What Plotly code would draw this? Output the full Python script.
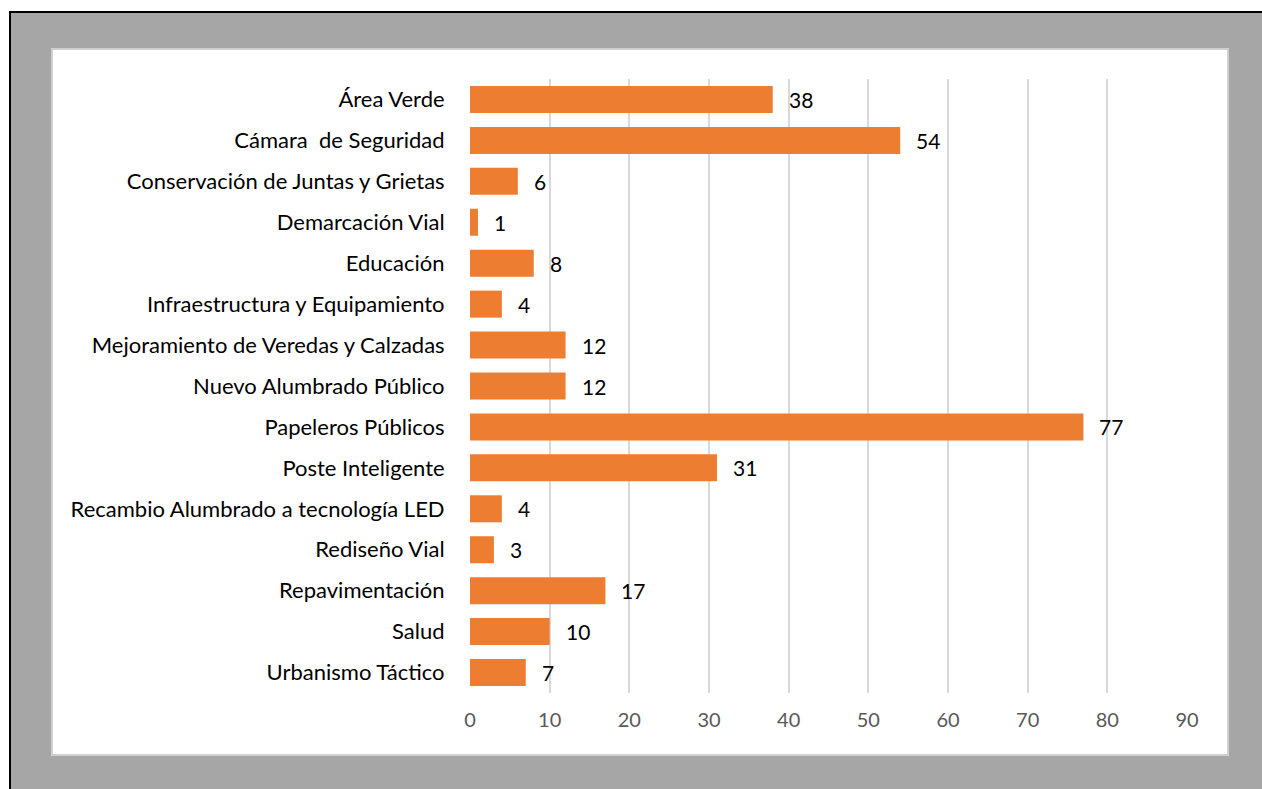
import plotly.graph_objects as go

categories = ["Área Verde", "Cámara  de Seguridad", "Conservación de Juntas y Grietas",
              "Demarcación Vial", "Educación", "Infraestructura y Equipamiento",
              "Mejoramiento de Veredas y Calzadas", "Nuevo Alumbrado Público",
              "Papeleros Públicos", "Poste Inteligente",
              "Recambio Alumbrado a tecnología LED", "Rediseño Vial",
              "Repavimentación", "Salud", "Urbanismo Táctico"]
values = [38, 54, 6, 1, 8, 4, 12, 12, 77, 31, 4, 3, 17, 10, 7]
x_ticks = [0, 10, 20, 30, 40, 50, 60, 70, 80, 90]

W, H = 1262, 789
L, R, T, B = 470, 1187, 79, 693
pw, ph = R - L, B - T

def px(x):
    return (x - L) / pw

def py(y):
    return (B - y) / ph

FONT = "Lato"

fig = go.Figure()
fig.add_trace(go.Bar(
    x=values, y=categories, orientation="h",
    marker=dict(color="#ED7D31", line=dict(width=0)),
    hoverinfo="x+y",
))

annotations = [dict(x=v, y=c, xref="x", yref="y", text=str(v), showarrow=False,
                    xanchor="left", xshift=14, font=dict(size=21, color="#000000", family=FONT))
               for c, v in zip(categories, values)]

shapes = [
    dict(type="rect", xref="paper", yref="paper", x0=px(52), x1=px(1228), y0=py(755), y1=py(49),
         fillcolor="#FFFFFF", line=dict(color="#D0D0D0", width=2), layer="below"),
]

fig.update_layout(
    width=W, height=H,
    margin=dict(l=L, r=W - R, t=T, b=H - B, pad=0),
    paper_bgcolor="#A6A6A6", plot_bgcolor="rgba(0,0,0,0)",
    bargap=0.34, showlegend=False,
    shapes=shapes, annotations=annotations,
    xaxis=dict(range=[0, 90], tickvals=x_ticks, showgrid=True, gridcolor="#D9D9D9", gridwidth=2,
               zeroline=False, showline=False, ticks="outside", ticklen=9,
               tickcolor="rgba(0,0,0,0)", tickfont=dict(size=20, color="#595959", family=FONT),
               fixedrange=True),
    yaxis=dict(categoryorder="array", categoryarray=categories, autorange="reversed",
               showgrid=False, zeroline=False, showline=False, ticks="outside", ticklen=20,
               tickcolor="rgba(0,0,0,0)", tickfont=dict(size=22, color="#000000", family=FONT),
               fixedrange=True),
)

frame_js = (
    "document.body.style.margin='0';document.body.style.overflow='hidden';"
    "var f=document.createElement('div');"
    "f.style.cssText='position:absolute;left:0;top:0;width:9px;height:789px;background:#fff;pointer-events:none;';"
    "document.body.appendChild(f);"
    "var g=document.createElement('div');"
    "g.style.cssText='position:absolute;left:0;top:0;width:1262px;height:11px;background:#fff;pointer-events:none;';"
    "document.body.appendChild(g);"
    "var h=document.createElement('div');"
    "h.style.cssText='position:absolute;left:9px;top:11px;width:1300px;height:800px;"
    "border-left:2px solid #000;border-top:2px solid #000;box-sizing:border-box;pointer-events:none;';"
    "document.body.appendChild(h);"
)

fig.write_html("out.html", config={"displayModeBar": False}, post_script=frame_js)
